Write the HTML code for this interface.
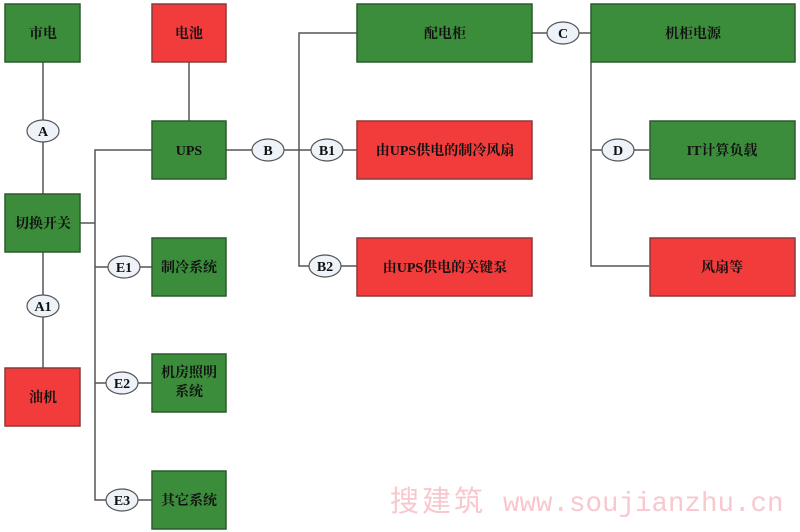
<!DOCTYPE html>
<html><head><meta charset="utf-8"><style>
html,body{margin:0;padding:0;background:#fff;width:800px;height:532px;overflow:hidden}
svg text{font-family:"Liberation Serif","Noto Serif CJK SC","Noto Sans CJK SC",serif;font-weight:bold;font-size:14px;fill:#111}
</style></head><body>
<svg width="800" height="532" viewBox="0 0 800 532" xmlns="http://www.w3.org/2000/svg">
<g stroke="#555" stroke-width="1.5" fill="none">
<line x1="43" y1="62" x2="43" y2="194"/>
<line x1="43" y1="252" x2="43" y2="368"/>
<line x1="80" y1="223" x2="95" y2="223"/>
<polyline points="152,150 95,150 95,500 152,500"/>
<line x1="95" y1="267" x2="152" y2="267"/>
<line x1="95" y1="383" x2="152" y2="383"/>
<line x1="189" y1="62" x2="189" y2="121"/>
<line x1="226" y1="150" x2="357" y2="150"/>
<polyline points="357,33 299,33 299,266 357,266"/>
<line x1="532" y1="33" x2="591" y2="33"/>
<polyline points="591,62 591,266 649,266"/>
<line x1="591" y1="150" x2="649" y2="150"/>
</g>
<g stroke="#2d5a2d" stroke-width="1.5" fill="#3b8c3b">
<rect x="5" y="4" width="75" height="58"/>
<rect x="152" y="121" width="74" height="58"/>
<rect x="5" y="194" width="75" height="58"/>
<rect x="152" y="238" width="74" height="58"/>
<rect x="152" y="354" width="74" height="58"/>
<rect x="152" y="471" width="74" height="58"/>
<rect x="357" y="4" width="175" height="58"/>
<rect x="591" y="4" width="204" height="58"/>
<rect x="650" y="121" width="145" height="58"/>
</g>
<g stroke="#8a3a3a" stroke-width="1.5" fill="#f23b3b">
<rect x="152" y="4" width="74" height="58"/>
<rect x="5" y="368" width="75" height="58"/>
<rect x="357" y="121" width="175" height="58"/>
<rect x="357" y="238" width="175" height="58"/>
<rect x="650" y="238" width="145" height="58"/>
</g>
<g stroke="#555" stroke-width="1.2" fill="#eef3f9">
<ellipse cx="43" cy="131" rx="16" ry="11"/>
<ellipse cx="43" cy="306" rx="16" ry="11"/>
<ellipse cx="124" cy="267" rx="16" ry="11"/>
<ellipse cx="122" cy="383" rx="16" ry="11"/>
<ellipse cx="122" cy="500" rx="16" ry="11"/>
<ellipse cx="268" cy="150" rx="16" ry="11"/>
<ellipse cx="327" cy="150" rx="16" ry="11"/>
<ellipse cx="325" cy="266" rx="16" ry="11"/>
<ellipse cx="563" cy="33" rx="16" ry="11"/>
<ellipse cx="618" cy="150" rx="16" ry="11"/>
</g>
<g text-anchor="middle">
<text x="43" y="136">A</text>
<text x="43" y="311">A1</text>
<text x="124" y="272">E1</text>
<text x="122" y="388">E2</text>
<text x="122" y="505">E3</text>
<text x="268" y="155">B</text>
<text x="327" y="155">B1</text>
<text x="325" y="271">B2</text>
<text x="563" y="38">C</text>
<text x="618" y="155">D</text>
<text x="43" y="38">市电</text>
<text x="189" y="38">电池</text>
<text x="189" y="155">UPS</text>
<text x="43" y="228">切换开关</text>
<text x="43" y="402">油机</text>
<text x="189" y="272">制冷系统</text>
<text x="189" y="377">机房照明</text>
<text x="189" y="396">系统</text>
<text x="189" y="505">其它系统</text>
<text x="445" y="38">配电柜</text>
<text x="693" y="38">机柜电源</text>
<text x="445" y="155">由UPS供电的制冷风扇</text>
<text x="445" y="272">由UPS供电的关键泵</text>
<text x="722" y="155">IT计算负载</text>
<text x="722" y="272">风扇等</text>
</g>
<text x="390" y="511" style="font-family:'Noto Sans CJK SC',sans-serif;font-weight:normal;font-size:29px;fill:#f8c8ce;letter-spacing:3px">搜建筑</text>
<text x="503" y="511" style="font-family:'Liberation Mono',monospace;font-weight:normal;font-size:27.5px;fill:#f8c8ce">www.soujianzhu.cn</text>
</svg>
</body></html>
